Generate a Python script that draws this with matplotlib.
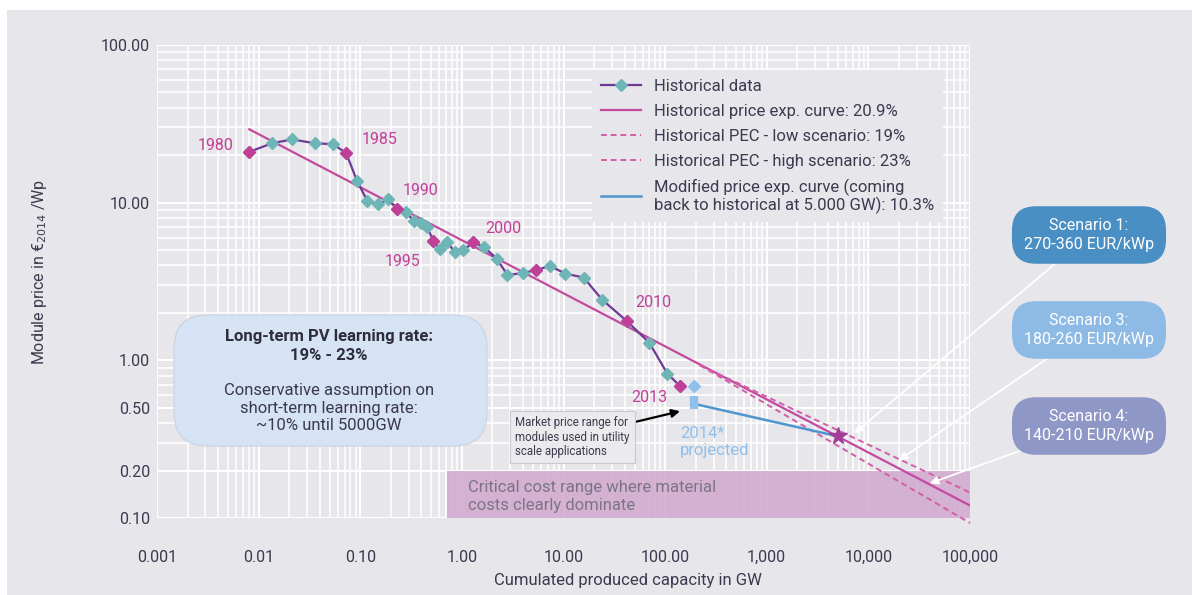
import matplotlib
matplotlib.use("Agg")
import matplotlib.pyplot as plt
from matplotlib.patches import Rectangle, FancyBboxPatch
from matplotlib.ticker import LogLocator, NullFormatter, FixedLocator, FixedFormatter

plt.rcParams['font.family'] = ['Roboto', 'DejaVu Sans']

# ---------------- data ----------------
years = list(range(1980, 2014))
capacity_gw = [0.0081, 0.0135, 0.0213, 0.036, 0.0536, 0.0726, 0.093, 0.117, 0.150, 0.188,
               0.231, 0.279, 0.337, 0.393, 0.457, 0.524, 0.608, 0.719, 0.855, 1.03,
               1.29, 1.65, 2.20, 2.81, 3.95, 5.35, 7.35, 10.4, 15.8, 23.9,
               42.2, 70.1, 105, 141]
price_eur_wp = [21.0, 23.8, 25.2, 23.8, 23.5, 20.7, 13.7, 10.3, 9.75, 10.5,
                9.1, 8.75, 7.66, 7.44, 7.0, 5.72, 5.07, 5.64, 4.83, 4.99,
                5.59, 5.24, 4.42, 3.47, 3.58, 3.73, 3.97, 3.55, 3.35, 2.43,
                1.77, 1.29, 0.824, 0.684]
highlight_years = [1980, 1985, 1990, 1995, 2000, 2005, 2010, 2013]
label_years = [1980, 1985, 1990, 1995, 2000, 2010, 2013]
label_offsets_px = {1980: (-34, 6), 1985: (34, 13), 1990: (23, 19), 1995: (-31, -21),
                    2000: (30, 14), 2010: (26, 19), 2013: (-31, -11)}

pec_x = [0.0081, 100000]
pec_y = [29.2, 0.12]
pec_low_x = [220, 100000]
pec_low_y = [0.93, 0.145]
pec_high_x = [220, 100000]
pec_high_y = [0.93, 0.093]
mod_x = [192, 5000]
mod_y = [0.53, 0.33]
proj_2014_x = 192
proj_2014_price = 0.684
proj_2014_range = [0.49, 0.59]
star_x, star_y = 5000, 0.33

critical_x = [0.72, 100000]
critical_y = [0.1, 0.2]

xticks = [0.001, 0.01, 0.1, 1, 10, 100, 1000, 10000, 100000]
xtick_labels = ['0.001', '0.01', '0.10', '1.00', '10.00', '100.00', '1,000', '10,000', '100,000']
yticks = [0.1, 0.2, 0.5, 1, 10, 100]
ytick_labels = ['0.10', '0.20', '0.50', '1.00', '10.00', '100.00']

scenarios = ['Scenario 1:\n270-360 EUR/kWp', 'Scenario 3:\n180-260 EUR/kWp', 'Scenario 4:\n140-210 EUR/kWp']
scenario_targets_x = [7300, 19900, 40200]
scenario_targets_y = [0.345, 0.232, 0.166]

# ---------------- style ----------------
BG = '#e7e6eb'
PURPLE = '#6e3a96'
TEAL = '#6db5b6'
MAGENTA = '#c23f98'
PEC = '#c24a9f'
PEC_DASH = '#d35ea8'
BLUE = '#4f96cf'
LBLUE = '#8fc0ec'
TXT = '#3b3a4e'

W, H = 1192, 595
fig = plt.figure(figsize=(W / 100, H / 100), dpi=100, facecolor='white')
fig.patches.append(Rectangle((7 / W, 0), 1 - 7 / W, 1 - 10 / H, transform=fig.transFigure,
                             facecolor=BG, edgecolor='none', zorder=-10))

ax = fig.add_axes([157 / W, 1 - 518 / H, (970 - 157) / W, (518 - 45) / H])
ax.set_facecolor(BG)
ax.set_xscale('log')
ax.set_yscale('log')
ax.set_xlim(0.001, 100000)
ax.set_ylim(0.1, 100)
for s in ax.spines.values():
    s.set_visible(False)

ax.xaxis.set_minor_locator(LogLocator(base=10, subs=range(2, 10)))
ax.yaxis.set_minor_locator(LogLocator(base=10, subs=range(2, 10)))
ax.xaxis.set_minor_formatter(NullFormatter())
ax.yaxis.set_minor_formatter(NullFormatter())
ax.xaxis.set_major_locator(FixedLocator(xticks))
ax.xaxis.set_major_formatter(FixedFormatter(xtick_labels))
ax.yaxis.set_major_locator(FixedLocator(yticks))
ax.yaxis.set_major_formatter(FixedFormatter(ytick_labels))
ax.tick_params(which='both', length=0)
ax.tick_params(axis='x', pad=23, labelsize=11.5, labelcolor=TXT)
ax.tick_params(axis='y', pad=5, labelsize=11.5, labelcolor=TXT)
ax.grid(True, which='major', color='white', lw=1.4)
ax.grid(True, which='minor', color='white', lw=1.1)
ax.set_axisbelow(True)

# critical cost band
ax.fill_between(critical_x, critical_y[0], critical_y[1], color='#d2acd0', alpha=0.9, lw=0, zorder=1)
ax.text(1.15, 0.137, 'Critical cost range where material\ncosts clearly dominate',
        fontsize=12, color='#7b7585', va='center', ha='left', linespacing=1.25, zorder=2)

# curves
ax.plot(pec_x, pec_y, color=PEC, lw=1.6, zorder=3, label='Historical price exp. curve: 20.9%')
ax.plot(pec_low_x, pec_low_y, color=PEC_DASH, lw=1.4, ls=(0, (3, 2)), zorder=3, clip_on=False,
        label='Historical PEC - low scenario: 19%')
ax.plot(pec_high_x, pec_high_y, color=PEC_DASH, lw=1.4, ls=(0, (3, 2)), zorder=3, clip_on=False,
        label='Historical PEC - high scenario: 23%')
ax.plot(mod_x, mod_y, color=BLUE, lw=1.8, zorder=3,
        label='Modified price exp. curve (coming\nback to historical at 5.000 GW): 10.3%')

# historical data
ax.plot(capacity_gw, price_eur_wp, color=PURPLE, lw=1.6, marker='D', ms=6.5,
        mfc=TEAL, mec=TEAL, zorder=4, label='Historical data')
hx = [c for c, y in zip(capacity_gw, years) if y in highlight_years]
hy = [p for p, y in zip(price_eur_wp, years) if y in highlight_years]
ax.plot(hx, hy, ls='none', marker='D', ms=6.5, mfc=MAGENTA, mec=MAGENTA, zorder=5)
for c, p, y in zip(capacity_gw, price_eur_wp, years):
    if y in label_years:
        ax.annotate(str(y), (c, p), xytext=label_offsets_px[y], textcoords='offset pixels',
                    ha='center', va='center', fontsize=11.5, color=MAGENTA, zorder=6)

# 2014 projected
ax.plot([proj_2014_x], [proj_2014_price], ls='none', marker='D', ms=6, mfc=LBLUE, mec=LBLUE, zorder=5)
ax.plot([proj_2014_x, proj_2014_x], proj_2014_range, color=LBLUE, lw=6, solid_capstyle='butt', zorder=5)
ax.annotate('2014*\nprojected', (proj_2014_x, proj_2014_range[0]), xytext=(-14, -33),
            textcoords='offset pixels', ha='left', va='center', fontsize=12, color=LBLUE,
            linespacing=1.2, zorder=6)
ax.plot([star_x], [star_y], ls='none', marker='*', ms=13, mfc='#a23d98', mec='#a23d98', zorder=6)

# market price annotation
ax.annotate('Market price range for\nmodules used in utility\nscale applications',
            xy=(149, 0.48), xytext=(515 / W, 1 - 437 / H), textcoords='figure fraction',
            ha='left', va='center', fontsize=8.3, color=TXT, linespacing=1.15,
            bbox=dict(boxstyle='square,pad=0.45', fc='#ebebed', ec='#c9c9cc', lw=0.8),
            arrowprops=dict(arrowstyle='-|>', color='black', lw=1.6, mutation_scale=12,
                            shrinkA=0, shrinkB=2), zorder=7)

# legend
leg = ax.legend(handles=[ax.lines[4], ax.lines[0], ax.lines[1], ax.lines[2], ax.lines[3]],
                loc='upper left', bbox_to_anchor=((584 - 157) / 813, 1 - (62 - 45) / 473),
                frameon=True, fontsize=12, handlelength=2.4, handletextpad=0.8,
                labelspacing=0.6, borderpad=0.5, numpoints=1, fancybox=False)
leg.get_frame().set_facecolor(BG)
leg.get_frame().set_edgecolor('none')
leg.get_frame().set_alpha(1)
for t in leg.get_texts():
    t.set_color(TXT)
    t.set_linespacing(1.05)

# left info box
fig.patches.append(FancyBboxPatch((174 / W, 1 - 446 / H), 313 / W, 131 / H,
                                  boxstyle='round,pad=0,rounding_size=0.028',
                                  transform=fig.transFigure, mutation_aspect=W / H,
                                  fc='#d5e3f5', ec='#c9d3e0', lw=0.8, zorder=8))
fig.text(329 / W, 1 - 346 / H, 'Long-term PV learning rate:\n19% - 23%', ha='center', va='center',
         fontsize=12, fontweight='bold', color='#2e2d3d', linespacing=1.3, zorder=9)
fig.text(329 / W, 1 - 408 / H, 'Conservative assumption on\nshort-term learning rate:\n~10% until 5000GW',
         ha='center', va='center', fontsize=12, color=TXT, linespacing=1.25, zorder=9)

# scenario boxes with arrows
box_colors = ['#4a8fc4', '#8dbbe6', '#8f97c6']
box_y = [235, 330, 426]
for txt, bc, by, tx, ty in zip(scenarios, box_colors, box_y, scenario_targets_x, scenario_targets_y):
    ax.annotate(txt, xy=(tx, ty), xytext=(1089 / W, 1 - by / H), textcoords='figure fraction',
                ha='center', va='center', fontsize=11.5, color='white', linespacing=1.3,
                bbox=dict(boxstyle='round,pad=0.75,rounding_size=1.5', fc=bc, ec='none'),
                arrowprops=dict(arrowstyle='-|>', color='white', lw=1.3, mutation_scale=12,
                                shrinkA=0, shrinkB=0),
                annotation_clip=False, zorder=9)

# axis labels
fig.text(628 / W, 1 - 580 / H, 'Cumulated produced capacity in GW', ha='center', va='center',
         fontsize=12, color=TXT)
fig.text(40 / W, 1 - 272 / H, 'Module price in €$_{2014}$ /Wp', ha='center', va='center',
         rotation=90, fontsize=11.5, color=TXT)

fig.savefig('out.png', dpi=100, facecolor='white')
